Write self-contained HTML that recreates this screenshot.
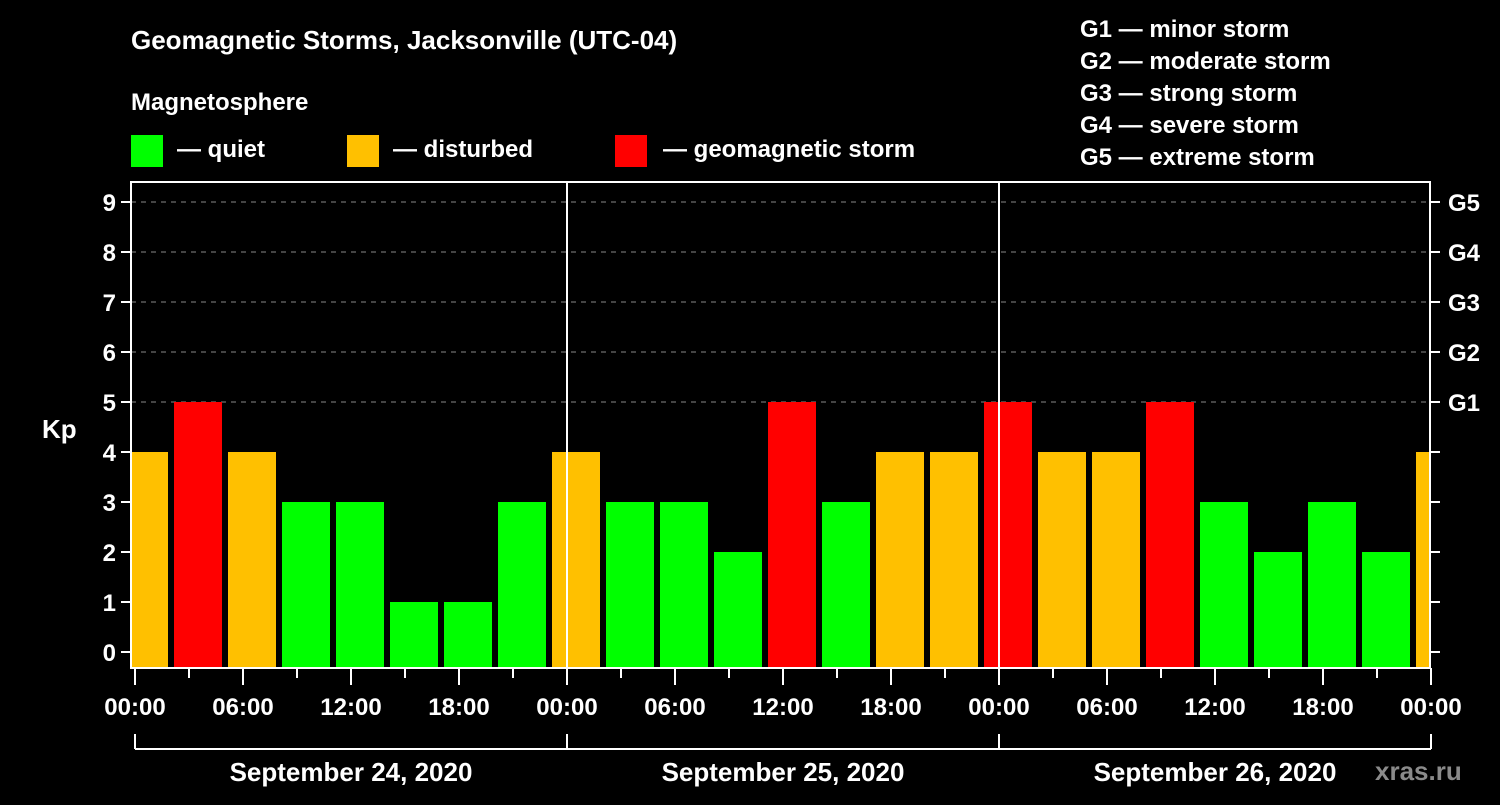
<!DOCTYPE html>
<html><head><meta charset="utf-8"><style>
body{margin:0;background:#000;width:1500px;height:800px;overflow:hidden}
svg text{font-family:"Liberation Sans",Arial,sans-serif;font-weight:bold;fill:#fff}
</style></head><body>
<svg id="c" width="1500" height="800" xmlns="http://www.w3.org/2000/svg">
<rect width="1500" height="800" fill="#000"/>
<text x="131" y="49" font-size="26">Geomagnetic Storms, Jacksonville (UTC-04)</text>
<text x="131" y="110" font-size="24">Magnetosphere</text>
<g><rect x="131" y="135" width="32" height="32" fill="#00ff00"/><text x="177" y="157" font-size="24">— quiet</text></g>
<g><rect x="347" y="135" width="32" height="32" fill="#ffc000"/><text x="393" y="157" font-size="24">— disturbed</text></g>
<g><rect x="615" y="135" width="32" height="32" fill="#ff0000"/><text x="663" y="157" font-size="24">— geomagnetic storm</text></g>
<g font-size="24">
<text x="1080" y="37">G1 — minor storm</text>
<text x="1080" y="69">G2 — moderate storm</text>
<text x="1080" y="101">G3 — strong storm</text>
<text x="1080" y="133">G4 — severe storm</text>
<text x="1080" y="165">G5 — extreme storm</text>
</g>
<text x="42" y="438" font-size="26">Kp</text>
<text x="1375" y="780" font-size="26" fill="#888" style="fill:#8a8a8a">xras.ru</text>
<g id="plot"></g>
</svg>
<script>
const values=[4,5,4,3,3,1,1,3,4,3,3,2,5,3,4,4,5,4,4,5,3,2,3,2,4];
const startHours=[-1,2,5,8,11,14,17,20,23,26,29,32,35,38,41,44,47,50,53,56,59,62,65,68,71];
const dayLabels=["September 24, 2020","September 25, 2020","September 26, 2020"];
const hourLabels=["00:00","06:00","12:00","18:00"];
const gLabels=["G1","G2","G3","G4","G5"];
const NS="http://www.w3.org/2000/svg";
const X0=131,X1=1430,Y0=182,Y1=668;
const x=h=>135+h*18;
const y=v=>652-v*50;
const g=document.getElementById('plot');
function mk(t,a,p){const e=document.createElementNS(NS,t);for(const k in a)e.setAttribute(k,a[k]);(p||g).appendChild(e);return e;}
// grid
for(let v=5;v<=9;v++){const l=mk('line',{x1:X0,x2:X1,y1:y(v),y2:y(v),stroke:'#888','stroke-dasharray':'5,5','stroke-width':1});

}
// bars
const clip=mk('clipPath',{id:'pc'});mk('rect',{x:X0+1,y:Y0,width:X1-X0-1,height:Y1-Y0},clip);
values.forEach((v,i)=>{const col=v>=5?'#ff0000':v>=4?'#ffc000':'#00ff00';
const b=mk('rect',{x:x(startHours[i])+3,y:y(v),width:48,height:667-y(v),fill:col,'clip-path':'url(#pc)'});

});
// day separators
[24,48].forEach(h=>{const l=mk('line',{x1:x(h),x2:x(h),y1:Y0,y2:Y1,stroke:'#fff','stroke-width':2});

});
// frame
const fr=mk('rect',{x:X0,y:Y0,width:X1-X0,height:Y1-Y0,fill:'none',stroke:'#fff','stroke-width':2});


// y ticks
for(let v=0;v<=9;v++){
mk('line',{x1:X0-10,x2:X0,y1:y(v),y2:y(v),stroke:'#fff','stroke-width':2});
mk('line',{x1:X1,x2:X1+10,y1:y(v),y2:y(v),stroke:'#fff','stroke-width':2});
const t=mk('text',{x:116,y:y(v)+9,'font-size':24,'text-anchor':'end'});t.textContent=v;

}
gLabels.forEach((s,i)=>{const t=mk('text',{x:1448,y:y(5+i)+9,'font-size':24});t.textContent=s;

});
// x ticks
for(let h=0;h<=72;h+=3){const maj=h%6===0;
mk('line',{x1:x(h),x2:x(h),y1:Y1,y2:maj?685:678,stroke:'#fff','stroke-width':2});
if(maj){const t=mk('text',{x:x(h),y:715,'font-size':24,'text-anchor':'middle'});t.textContent=hourLabels[(h/6)%4];

}}
// day bracket
mk('line',{x1:x(0),x2:x(72),y1:749,y2:749,stroke:'#fff','stroke-width':2});
[0,24,48,72].forEach(h=>mk('line',{x1:x(h),x2:x(h),y1:734,y2:749,stroke:'#fff','stroke-width':2}));
dayLabels.forEach((s,i)=>{const t=mk('text',{x:x(i*24+12),y:781,'font-size':26,'text-anchor':'middle'});t.textContent=s;

});
</script>
</body></html>
